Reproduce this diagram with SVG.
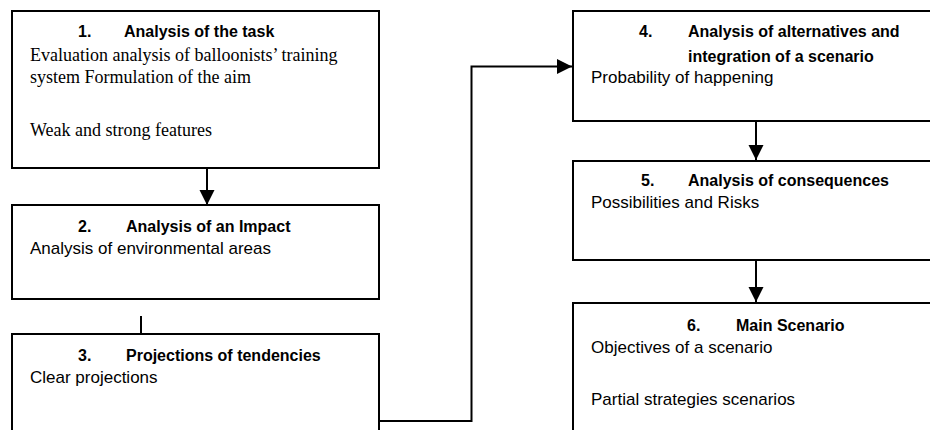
<svg xmlns="http://www.w3.org/2000/svg" width="930" height="430" viewBox="0 0 930 430">
  <style>
    .box { fill: #fff; stroke: #000; stroke-width: 2; }
    .conn { fill: none; stroke: #000; stroke-width: 2; }
    .title { font-family: "Liberation Sans", Arial, sans-serif; font-weight: bold; font-size: 16px; fill: #000; }
    .body { font-family: "Liberation Sans", Arial, sans-serif; font-size: 17px; fill: #000; }
    .serif { font-family: "Liberation Serif", "Times New Roman", serif; font-size: 18px; fill: #000; }
  </style>
  <defs>
    <marker id="arrow" markerUnits="userSpaceOnUse" markerWidth="16" markerHeight="16" refX="15" refY="7.5" orient="auto">
      <path d="M0,0 L15,7.5 L0,15 z" fill="#000"/>
    </marker>
  </defs>
  <rect width="930" height="430" fill="#fff"/>

  <g id="node1">
    <rect class="box" x="12" y="11" width="367" height="157"/>
    <text class="title" x="78" y="37">1.</text>
    <text class="title" x="124" y="37">Analysis of the task</text>
    <text class="serif" x="30" y="61">Evaluation analysis of balloonists’ training</text>
    <text class="serif" x="30" y="83">system Formulation of the aim</text>
    <text class="serif" x="30" y="136">Weak and strong features</text>
  </g>

  <g id="node2">
    <rect class="box" x="12" y="205" width="367" height="94"/>
    <text class="title" x="78" y="232">2.</text>
    <text class="title" x="126" y="232">Analysis of an Impact</text>
    <text class="body" x="30" y="254">Analysis of environmental areas</text>
  </g>

  <g id="node3">
    <rect class="box" x="12" y="334" width="367" height="120"/>
    <text class="title" x="78" y="361">3.</text>
    <text class="title" x="126" y="361">Projections of tendencies</text>
    <text class="body" x="30" y="383">Clear projections</text>
  </g>

  <g id="node4">
    <rect class="box" x="573" y="11" width="400" height="110"/>
    <text class="title" x="639" y="37">4.</text>
    <text class="title" x="688" y="37">Analysis of alternatives and</text>
    <text class="title" x="688" y="62">integration of a scenario</text>
    <text class="body" x="591" y="83">Probability of happening</text>
  </g>

  <g id="node5">
    <rect class="box" x="573" y="161" width="400" height="99"/>
    <text class="title" x="641" y="186">5.</text>
    <text class="title" x="688" y="186">Analysis of consequences</text>
    <text class="body" x="591" y="208">Possibilities and Risks</text>
  </g>

  <g id="node6">
    <rect class="box" x="573" y="303" width="400" height="150"/>
    <text class="title" x="687" y="331">6.</text>
    <text class="title" x="736" y="331">Main Scenario</text>
    <text class="body" x="591" y="353">Objectives of a scenario</text>
    <text class="body" x="591" y="405">Partial strategies scenarios</text>
  </g>

  <g id="connectors">
    <line class="conn" x1="207" y1="168" x2="207" y2="205" marker-end="url(#arrow)"/>
    <line class="conn" x1="141" y1="316" x2="141" y2="334"/>
    <polyline class="conn" points="379,421 471.5,421 471.5,66.5 572,66.5" marker-end="url(#arrow)"/>
    <line class="conn" x1="756" y1="121" x2="756" y2="160" marker-end="url(#arrow)"/>
    <line class="conn" x1="756" y1="260" x2="756" y2="302" marker-end="url(#arrow)"/>
  </g>
</svg>
